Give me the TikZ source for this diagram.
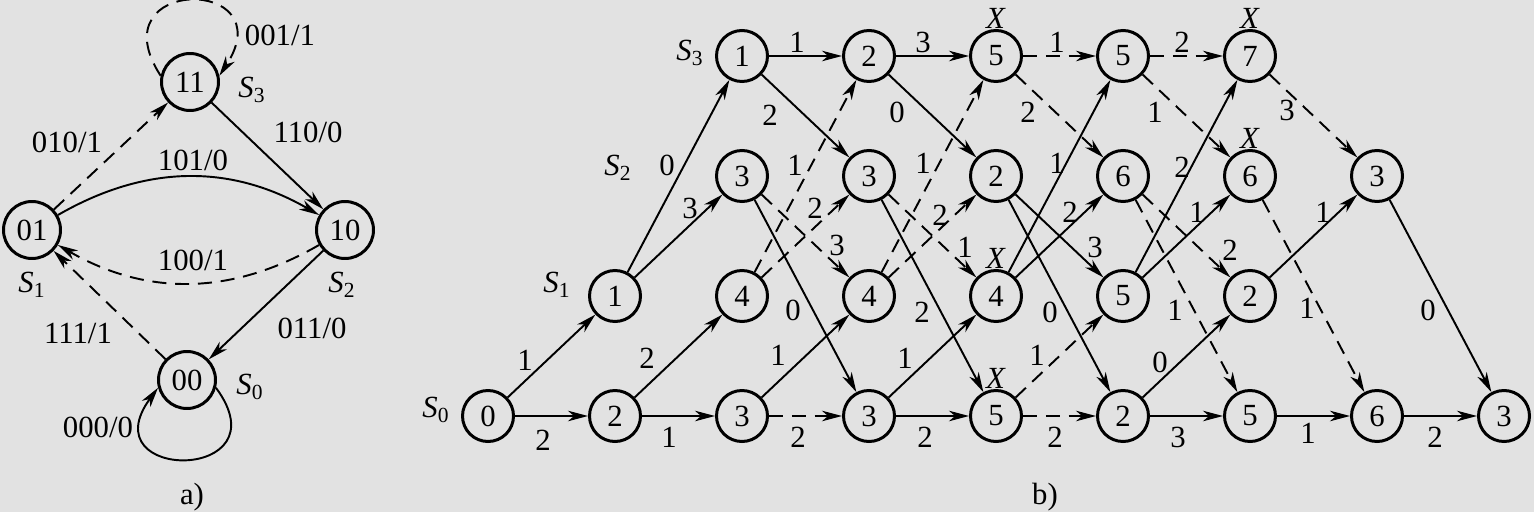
\documentclass[tikz,border=0pt]{standalone}
\usepackage{fontspec}
\setmainfont{Liberation Serif}
\newfontfamily\timesf{Liberation Serif}
\usepackage{tikz}
\usepackage{xcolor}
\usetikzlibrary{arrows.meta,positioning}
\definecolor{bggray}{RGB}{226,226,226}

\begin{document}
\begin{tikzpicture}[x=2cm,y=2cm,
  every node/.style={font=\timesf\fontsize{17.5}{20}\selectfont},
  metric/.style={draw,circle,line width=1.7pt,minimum size=1.02cm,inner sep=0pt},
  state/.style={draw,circle,line width=1.7pt,minimum size=1.14cm,inner sep=0pt},
  sol/.style={line width=1.1pt,-{Stealth[length=4mm,width=2.1mm,inset=1.2mm]}},
  dsh/.style={sol,dash pattern=on 8pt off 5pt}]
\fill[bggray] (0,0) rectangle (15.34,5.12);
\useasboundingbox (0,0) rectangle (15.34,5.12);
% a) state diagram
\node[state] (s11) at (1.90,4.30) {11};
\node[state] (s01) at (0.32,2.82) {01};
\node[state] (s10) at (3.45,2.82) {10};
\node[state] (s00) at (1.87,1.32) {00};
\node (q3) at (2.52,4.22) {\textit{S}\textsubscript{3}};
\node (q1) at (0.32,2.27) {\textit{S}\textsubscript{1}};
\node (q2) at (3.42,2.27) {\textit{S}\textsubscript{2}};
\node (q0) at (2.50,1.25) {\textit{S}\textsubscript{0}};
\draw[dsh] (s11.168) .. controls +(-0.65,1.0) and +(0.65,1.0) .. (s11.12) node (e11) at (2.80,4.77) {001/1};
\draw[dsh] (s01) -- (s11) node (e0111) at (0.67,3.70) {010/1};
\draw[sol] (s11) -- (s10) node (e1110) at (3.08,3.80) {110/0};
\draw[sol] (s01) to[bend left=30] (s10) node (e0110) at (1.93,3.52) {101/0};
\draw[dsh] (s10) to[bend left=30] (s01) node (e1001) at (1.93,2.52) {100/1};
\draw[dsh] (s00) -- (s01) node (e0001) at (0.78,1.79) {111/1};
\draw[sol] (s10) -- (s00) node (e1000) at (3.12,1.84) {011/0};
\draw[sol] (s00.-15) .. controls +(0.7,-0.95) and +(-0.7,-0.95) .. (s00.195) node (e00) at (0.98,0.85) {000/0};
\node (capa) at (1.92,0.15) {a)};
% b) trellis
\foreach \c/\v in {0/0,1/2,2/3,3/3,4/5,5/2,6/5,7/6,8/3}
  \node[metric] (n0\c) at (4.88+1.27*\c,0.96) {\v};
\foreach \c/\v in {1/1,2/4,3/4,4/4,5/5,6/2}
  \node[metric] (n1\c) at (4.88+1.27*\c,2.16) {\v};
\foreach \c/\v in {2/3,3/3,4/2,5/6,6/6,7/3}
  \node[metric] (n2\c) at (4.88+1.27*\c,3.36) {\v};
\foreach \c/\v in {2/1,3/2,4/5,5/5,6/7}
  \node[metric] (n3\c) at (4.88+1.27*\c,4.56) {\v};
\foreach \n in {n34,n36,n26,n14,n04}
  \node[above=-3pt of \n] (x\n) {\textit{X}};
\node (r0) at (4.36,1.02) {\textit{S}\textsubscript{0}};
\node (r1) at (5.57,2.27) {\textit{S}\textsubscript{1}};
\node (r2) at (6.18,3.44) {\textit{S}\textsubscript{2}};
\node (r3) at (6.90,4.59) {\textit{S}\textsubscript{3}};
\foreach \a/\b/\s/\t/\lx/\ly in {
  n00/n01/sol/2/5.43/0.72, n00/n11/sol/1/5.25/1.52,
  n01/n02/sol/1/6.69/0.75, n01/n12/sol/2/6.47/1.54,
  n11/n32/sol/0/6.67/3.47, n11/n22/sol/3/6.90/3.04,
  n32/n33/sol/1/7.97/4.70, n32/n23/sol/2/7.70/3.97,
  n22/n03/sol/0/7.93/2.02, n22/n13/dsh/3/8.37/2.67,
  n12/n33/dsh/1/7.95/3.47, n12/n23/dsh/2/8.15/3.04,
  n02/n03/dsh/2/7.98/0.75, n02/n13/sol/1/7.78/1.57,
  n33/n34/sol/3/9.23/4.70, n33/n24/sol/0/8.97/4.00,
  n13/n34/dsh/1/9.23/3.49, n13/n24/dsh/2/9.40/2.97,
  n23/n04/sol/2/9.22/2.00, n23/n14/dsh/1/9.65/2.65,
  n03/n04/sol/2/9.25/0.75, n03/n14/sol/1/9.05/1.54,
  n34/n35/dsh/1/10.57/4.70, n34/n25/dsh/2/10.28/4.00,
  n14/n35/sol/1/10.57/3.49, n14/n25/sol/2/10.70/3.00,
  n24/n05/sol/0/10.50/2.00, n24/n15/sol/3/10.95/2.65,
  n04/n05/dsh/2/10.55/0.75, n04/n15/dsh/1/10.37/1.57,
  n35/n36/dsh/2/11.82/4.70, n35/n26/dsh/1/11.55/4.00,
  n15/n36/sol/2/11.82/3.45, n15/n26/sol/1/11.97/3.00,
  n25/n06/dsh/1/11.75/2.02, n25/n16/dsh/2/12.30/2.62,
  n05/n06/sol/3/11.78/0.75, n05/n16/sol/0/11.60/1.50,
  n36/n27/dsh/3/12.87/4.02, n26/n07/dsh/1/13.07/2.04,
  n16/n27/sol/1/13.23/3.00, n06/n07/sol/1/13.08/0.79,
  n27/n08/sol/0/14.28/2.02, n07/n08/sol/2/14.35/0.75}
  \draw[\s] (\a) -- (\b) node (t\a\b) at (\lx,\ly) {\t};
\node (capb) at (10.45,0.15) {b)};
\end{tikzpicture}
\end{document}
